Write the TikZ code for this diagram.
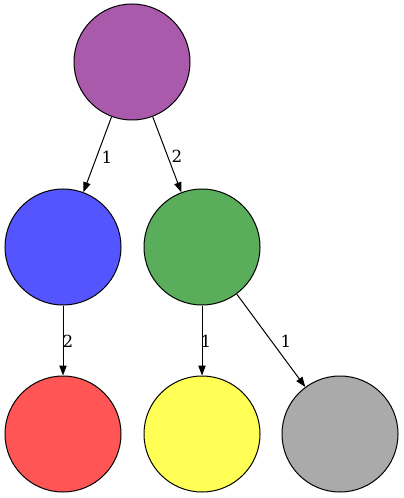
\documentclass[tikz,border=0pt]{standalone}
\usepackage{fontspec}
\setmainfont{DejaVu Serif}
\usetikzlibrary{arrows.meta}
\definecolor{cpurple}{HTML}{AA5AAA}
\definecolor{cblue}{HTML}{5555FF}
\definecolor{cgreen}{HTML}{5AAD5A}
\definecolor{cred}{HTML}{FF5555}
\definecolor{cyellow}{HTML}{FFFF55}
\definecolor{cgray}{HTML}{AAAAAA}
\begin{document}
\begin{tikzpicture}[x=0.75pt,y=-0.75pt,
  vert/.style={circle,draw=black,line width=0.75pt,minimum size=87pt,inner sep=0pt},
  edge/.style={draw=black,line width=0.75pt,-{Triangle[length=7.5pt,width=5.5pt]}},
  lbl/.style={font=\fontsize{12.5}{14}\selectfont,inner sep=0pt}]
\useasboundingbox (0,0) rectangle (403,498);
\node[vert,fill=cpurple] (p) at (132,62) {};
\node[vert,fill=cblue] (b) at (63,247) {};
\node[vert,fill=cgreen] (g) at (202,247) {};
\node[vert,fill=cred] (r) at (63,434) {};
\node[vert,fill=cyellow] (y) at (202,434) {};
\node[vert,fill=cgray] (a) at (340,434) {};
\draw[edge] (p) -- (b);
\draw[edge] (p) -- (g);
\draw[edge] (b) -- (r);
\draw[edge] (g) -- (y);
\draw[edge] (g) -- (a);
\node[lbl] (l1) at (107,157) {1};
\node[lbl] (l2) at (177,156) {2};
\node[lbl] (l3) at (68,341) {2};
\node[lbl] (l4) at (206,341) {1};
\node[lbl] (l5) at (286,341) {1};
\end{tikzpicture}
\end{document}
